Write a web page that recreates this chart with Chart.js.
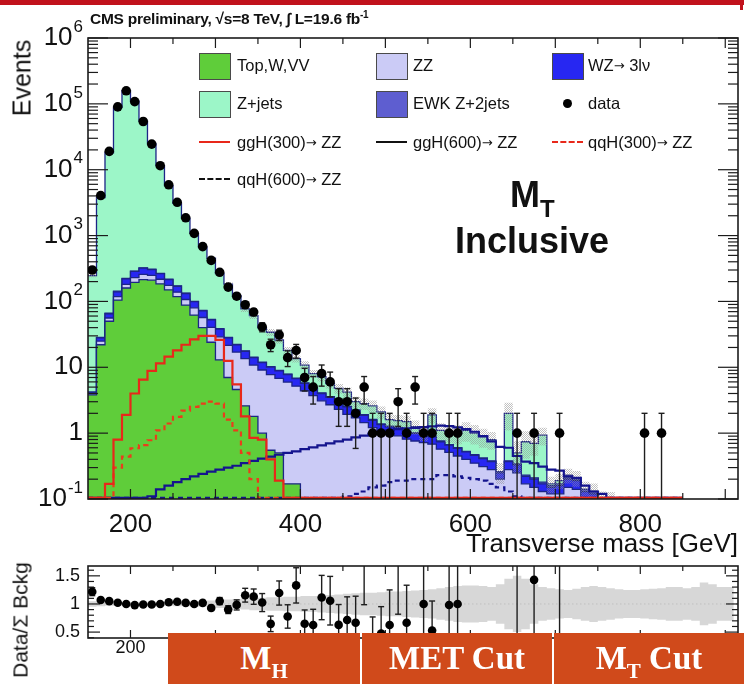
<!DOCTYPE html>
<html>
<head>
<meta charset="utf-8">
<title>Transverse mass, inclusive</title>
<script src="https://cdn.jsdelivr.net/npm/chart.js@4.4.1/dist/chart.umd.min.js"></script>
<style>
  html, body { margin: 0; padding: 0; background: #fff; }
  #page { position: relative; width: 744px; height: 684px; overflow: hidden;
          font-family: "Liberation Sans", Arial, sans-serif; color: #111; }
  #page canvas { position: absolute; left: 0; top: 0; }
  .t { position: absolute; white-space: nowrap; line-height: 1; }
  .box { position: absolute; width: 32px; height: 27px; border: 1.5px solid #4a4a4a; box-sizing: border-box; }
  .mark { position: absolute; width: 31px; height: 0; }
  .leg { font-size: 16.5px; }
  .arr { font-family: "DejaVu Sans", sans-serif; font-size: 13px; position: relative; top: -1px; }
  .cut { position: absolute; top: 633px; height: 51px; background: #d04a1b; color: #fff;
         font-family: "Liberation Serif", serif; font-weight: bold; font-size: 33px;
         text-align: center; line-height: 51px; }
  .cut span { font-size: 21px; position: relative; top: 9px; }
</style>
</head>
<body>
<div id="page">
  <canvas id="mainChart" width="744" height="684"></canvas>
  <canvas id="ratioChart" width="744" height="684"></canvas>

  <div style="position:absolute;left:0;top:0;width:744px;height:5px;background:#c1121c"></div>
  <div style="position:absolute;left:740px;top:0;width:3px;height:10px;background:#c1121c"></div>

  <div class="t" style="left:90px;top:11px;font-size:15.5px;font-weight:bold;letter-spacing:-0.25px">CMS preliminary, √s=8 TeV, ∫ L=19.6 fb<span style="font-size:10px;position:relative;top:-6px">-1</span></div>
  <div class="t" style="left:22px;top:78px;font-size:25px;transform:translate(-50%,-50%) rotate(-90deg)">Events</div>

  <!-- legend -->
  <div class="box" style="left:199px;top:53px;background:#5fcd3a"></div>
  <div class="t leg" style="left:237px;top:57px">Top,W,VV</div>
  <div class="box" style="left:376px;top:53px;background:#cbcbf6"></div>
  <div class="t leg" style="left:413px;top:57px">ZZ</div>
  <div class="box" style="left:552px;top:53px;background:#2727f2"></div>
  <div class="t leg" style="left:588px;top:57px">WZ<span class="arr">→</span> 3lν</div>

  <div class="box" style="left:199px;top:91px;background:#9cf6c8"></div>
  <div class="t leg" style="left:237px;top:95px">Z+jets</div>
  <div class="box" style="left:376px;top:91px;background:#5e5ed0"></div>
  <div class="t leg" style="left:413px;top:95px">EWK Z+2jets</div>
  <div style="position:absolute;left:563px;top:99px;width:9px;height:9px;border-radius:50%;background:#000"></div>
  <div class="t leg" style="left:588px;top:95px">data</div>

  <div class="mark" style="left:199px;top:141px;border-top:2px solid #e8281a"></div>
  <div class="t leg" style="left:237px;top:134px">ggH(300)<span class="arr">→</span> ZZ</div>
  <div class="mark" style="left:376px;top:141px;border-top:2px solid #111"></div>
  <div class="t leg" style="left:413px;top:134px">ggH(600)<span class="arr">→</span> ZZ</div>
  <div class="mark" style="left:552px;top:141px;border-top:2px dashed #e8281a"></div>
  <div class="t leg" style="left:588px;top:134px">qqH(300)<span class="arr">→</span> ZZ</div>

  <div class="mark" style="left:199px;top:178px;border-top:2px dashed #111"></div>
  <div class="t leg" style="left:237px;top:171px">qqH(600)<span class="arr">→</span> ZZ</div>

  <div class="t" style="left:510px;top:177px;font-size:36px;font-weight:bold">M<span style="font-size:24px;position:relative;top:10px">T</span></div>
  <div class="t" style="left:455px;top:223px;font-size:36px;font-weight:bold">Inclusive</div>

  <div class="t" style="right:6px;top:530px;font-size:26px">Transverse mass [GeV]</div>
  <div class="t" style="left:20px;top:620px;font-size:21px;transform:translate(-50%,-50%) rotate(-90deg)">Data/Σ Bckg</div>

  <div class="cut" style="left:168px;width:192px">M<span>H</span></div>
  <div class="cut" style="left:362px;width:190px">MET Cut</div>
  <div class="cut" style="left:554px;width:190px">M<span>T</span> Cut</div>
</div>

<script>
Chart.defaults.font.family = '"Liberation Sans", Arial, sans-serif';
Chart.defaults.color = '#111';

// binning: 10 GeV bins, first bin starts at 150 GeV
const binLow = 150;
const binWidth = 10;
const nBins = 70;           // histograms stop at 850 GeV
const xMin = 150, xMax = 915;
const xTickLabels = [200, 400, 600, 800];
const yDecades = [-1, 0, 1, 2, 3, 4, 5, 6];
const ratioTickLabels = [0.5, 1, 1.5];

// backgrounds, events per bin
const topWVV = [
  3.8, 22, 50, 105, 160, 195, 215, 210, 185, 150,
  118, 88, 62, 40, 24, 13, 7, 4.6, 2.6, 1.8,
  1.0, 0.55, 0.5, 0.17, 0.17, 0, 0, 0, 0, 0,
  0, 0, 0, 0, 0, 0, 0, 0, 0, 0,
  0, 0, 0, 0, 0, 0, 0, 0, 0, 0,
  0, 0, 0, 0, 0, 0, 0, 0, 0, 0,
  0, 0, 0, 0, 0, 0, 0, 0, 0, 0
];
const zz = [
  0.2, 3, 6, 13, 22, 35, 43, 38, 32, 25,
  20, 19, 18, 17, 16.5, 16, 14.5, 12.4, 10.9, 9.0,
  8.1, 7.2, 6.3, 5.8, 5.0, 4.4, 3.7, 3.1, 2.7, 2.3,
  1.93, 1.7, 1.44, 1.21, 1.04, 0.96, 0.91, 0.81, 0.76, 0.72,
  0.68, 0.57, 0.51, 0.45, 0.40, 0.35, 0.31, 0.28, 0.2, 0.28,
  0.25, 0.17, 0.15, 0.13, 0.12, 0.12, 0.15, 0.14, 0.10, 0.09,
  0.08, 0.08, 0.04, 0, 0, 0, 0, 0, 0, 0
];
const wz = [
  0.2, 3, 9, 22, 38, 55, 62, 57, 48, 40,
  32, 25, 19, 15, 12, 9, 6.5, 5, 4, 3.2,
  2.7, 2.3, 2.0, 1.8, 1.55, 1.3, 1.1, 0.9, 0.8, 0.68,
  0.57, 0.5, 0.43, 0.36, 0.31, 0.29, 0.27, 0.24, 0.23, 0.21,
  0.2, 0.17, 0.15, 0.14, 0.12, 0.11, 0.1, 0.09, 0.05, 0.09,
  0.08, 0.05, 0.05, 0.04, 0.03, 0.04, 0.05, 0.05, 0.03, 0.03,
  0.02, 0.02, 0.01, 0, 0, 0, 0, 0, 0, 0
];
const ewkZ2j = [
  0, 0.5, 1.5, 3, 4, 4, 3.5, 3, 2.5, 2,
  1.6, 1.3, 1, 0.8, 0.65, 0.5, 0.4, 0.35, 0.3, 0.25,
  0.2, 0.18, 0.15, 0.13, 0.11, 0.1, 0.09, 0.08, 0.07, 0.06,
  0.05, 0.05, 0.04, 0.04, 0.03, 0.03, 0.03, 0.02, 0.02, 0.02,
  0.02, 0.02, 0.01, 0.01, 0.01, 0.01, 0.01, 0.01, 0.01, 0.01,
  0.01, 0.01, 0.01, 0.01, 0.01, 0.01, 0.01, 0.01, 0.01, 0.01,
  0, 0, 0, 0, 0, 0, 0, 0, 0, 0
];
const zJets = [
  242, 3756, 18030, 88060, 157780, 109910, 54180, 24440, 11230, 5510,
  2910, 1692, 980, 594, 399, 225, 155, 99.7, 59.2, 46.8,
  28, 23.8, 17, 10.1, 6.7, 5.0, 3.1, 3.1, 2.1, 1.74,
  1.65, 0.75, 0.89, 0.99, 0.72, 0.32, 0.34, 0.43, 0.24, 0.05,
  1.0, 0.34, 0.35, 0.4, 0.57, 0.53, 0.46, 0.42, 0, 1.62,
  0.16, 0.51, 0.49, 0.75, 0.01, 0.02, 0.02, 0.01, 0, 0,
  0, 0, 0, 0, 0, 0, 0, 0, 0, 0
];

// observed events per bin
const dataCounts = [
  300, 4050, 19000, 90000, 158000, 108000, 54000, 24500, 11500, 5900,
  3200, 1860, 1080, 680, 420, 277, 165, 120, 89, 69,
  41, 22, 31, 14, 18, 7, 5, 8, 6, 3,
  3, 2, 5, 1, 1, 1, 3, 1, 5, 1,
  1, 0, 1, 1, 0, 0, 0, 0, 0, 0,
  1, 0, 1, 0, 0, 1, 0, 0, 0, 0,
  0, 0, 0, 0, 0, 1, 0, 1, 0, 0
];

// signal hypotheses, events per bin
const ggH300 = [
  0, 0, 0.17, 0.8, 1.9, 4.0, 6.5, 8.8, 11.5, 14.5,
  18, 22, 26.5, 30, 30, 26, 12.5, 5.5, 1.8, 0.85,
  0.8, 0.4, 0.19, 0, 0, 0, 0, 0, 0, 0,
  0, 0, 0, 0, 0, 0, 0, 0, 0, 0,
  0, 0, 0, 0, 0, 0, 0, 0, 0, 0,
  0, 0, 0, 0, 0, 0, 0, 0, 0, 0,
  0, 0, 0, 0, 0, 0, 0, 0, 0, 0
];
const qqH300 = [
  0, 0, 0, 0.3, 0.44, 0.59, 0.66, 0.78, 1.1, 1.4,
  1.77, 2.2, 2.5, 2.8, 3.0, 2.8, 1.6, 1.1, 0.5, 0.2,
  0, 0, 0, 0, 0, 0, 0, 0, 0, 0,
  0, 0, 0, 0, 0, 0, 0, 0, 0, 0,
  0, 0, 0, 0, 0, 0, 0, 0, 0, 0,
  0, 0, 0, 0, 0, 0, 0, 0, 0, 0,
  0, 0, 0, 0, 0, 0, 0, 0, 0, 0
];
const ggH600 = [
  0, 0, 0, 0, 0, 0, 0, 0.11, 0.14, 0.16,
  0.18, 0.2, 0.22, 0.24, 0.26, 0.28, 0.3, 0.32, 0.35, 0.38,
  0.41, 0.44, 0.47, 0.5, 0.53, 0.57, 0.61, 0.65, 0.7, 0.75,
  0.8, 0.86, 0.92, 0.98, 1.04, 1.1, 1.15, 1.18, 1.2, 1.23,
  1.27, 1.3, 1.28, 1.22, 1.15, 1.05, 0.9, 0.75, 0.62, 0.6,
  0.45, 0.37, 0.35, 0.31, 0.28, 0.27, 0.22, 0.21, 0.16, 0.13,
  0.12, 0.1, 0.08, 0, 0, 0, 0, 0, 0, 0
];
const qqH600 = [
  0, 0, 0, 0, 0, 0, 0, 0, 0, 0,
  0, 0, 0, 0, 0, 0, 0, 0, 0, 0,
  0, 0, 0, 0, 0, 0, 0, 0, 0, 0.1,
  0.11, 0.12, 0.13, 0.15, 0.16, 0.18, 0.19, 0.19, 0.2, 0.2,
  0.2, 0.23, 0.23, 0.22, 0.21, 0.2, 0.19, 0.17, 0.15, 0.13,
  0.11, 0.1, 0, 0, 0, 0, 0, 0, 0, 0,
  0, 0, 0, 0, 0, 0, 0, 0, 0, 0
];

// relative background uncertainty per bin (150-910 GeV)
const bkgRelUnc = [
  0.05, 0.04, 0.03, 0.03, 0.03, 0.03, 0.03, 0.03, 0.03, 0.03,
  0.04, 0.04, 0.05, 0.05, 0.06, 0.07, 0.08, 0.09, 0.10, 0.11,
  0.11, 0.12, 0.12, 0.13, 0.13, 0.14, 0.14, 0.15, 0.16, 0.17,
  0.18, 0.19, 0.20, 0.20, 0.21, 0.22, 0.22, 0.23, 0.24, 0.25,
  0.26, 0.28, 0.30, 0.32, 0.33, 0.33, 0.32, 0.30, 0.35, 0.45,
  0.50, 0.45, 0.35, 0.30, 0.28, 0.26, 0.25, 0.27, 0.30, 0.32,
  0.30, 0.28, 0.26, 0.25, 0.25, 0.26, 0.27, 0.28, 0.30, 0.30,
  0.28, 0.30, 0.38, 0.35, 0.30, 0.30
];

const edge = i => binLow + i * binWidth;
const centre = i => edge(i) + binWidth / 2;

// step-histogram points: value of bin i holds from its left edge to the next one
function histPoints(values, floor) {
  const pts = values.map((v, i) => ({ x: edge(i), y: Math.max(v, floor) }));
  pts.push({ x: edge(values.length), y: Math.max(values[values.length - 1], floor) });
  return pts;
}

// cumulative stack, bottom to top
const layers = [topWVV, zz, wz, ewkZ2j, zJets];
const cum = [];
let running = new Array(nBins).fill(0);
layers.forEach(l => {
  running = running.map((s, i) => s + l[i]);
  cum.push(running);
});
const total = cum[cum.length - 1];

const HIDDEN = 1e-3;      // below the axis, gets clipped away
const ALONG_AXIS = 0.104; // signal curves run along the bottom edge

const dataPts = [], dataErr = [], ratioPts = [], ratioErr = [];
dataCounts.forEach((n, i) => {
  if (n <= 0) return;
  const e = Math.sqrt(n);
  dataPts.push({ x: centre(i), y: n });
  dataErr.push({ x: centre(i), hi: n + e, lo: n - e });
  if (total[i] > 0) {
    const r = n / total[i];
    ratioPts.push({ x: centre(i), y: r });
    ratioErr.push({ x: centre(i), hi: r + e / total[i], lo: r - e / total[i] });
  }
});

const uncMain = bkgRelUnc.slice(0, nBins);
const bandUp = total.map((t, i) => t * (1 + uncMain[i]));
const bandLo = total.map((t, i) => t * (1 - uncMain[i]));

function hatchPattern(ctx, color) {
  const c = document.createElement('canvas');
  c.width = 4; c.height = 4;
  const g = c.getContext('2d');
  g.fillStyle = color;
  [[0, 0], [2, 0], [1, 1], [3, 1], [0, 2], [2, 2], [1, 3], [3, 3]].forEach(([a, b]) => g.fillRect(a, b, 1, 1));
  return ctx.createPattern(c, 'repeat');
}

function seg(ctx, x1, y1, x2, y2) {
  ctx.beginPath(); ctx.moveTo(x1, y1); ctx.lineTo(x2, y2); ctx.stroke();
}

function drawErrorBars(chart, bars, logScale) {
  const { ctx, chartArea: a, scales: { x, y } } = chart;
  ctx.save();
  ctx.beginPath();
  ctx.rect(a.left, a.top, a.right - a.left, a.bottom - a.top);
  ctx.clip();
  ctx.strokeStyle = '#1e1e1e';
  ctx.lineWidth = 1.4;
  bars.forEach(b => {
    const px = x.getPixelForValue(b.x);
    const yHi = y.getPixelForValue(b.hi);
    const noLow = logScale && b.lo <= 0;
    const yLo = noLow ? a.bottom + 2 : y.getPixelForValue(b.lo);
    seg(ctx, px, yHi, px, yLo);
    seg(ctx, px - 3, yHi, px + 3, yHi);
    if (!noLow) seg(ctx, px - 3, yLo, px + 3, yLo);
  });
  ctx.restore();
}

function drawXTicks(chart, majorLen, minorLen) {
  const { ctx, chartArea: a, scales: { x } } = chart;
  for (let v = 200; v <= 900; v += 50) {
    const px = x.getPixelForValue(v);
    const len = v % 100 === 0 ? majorLen : minorLen;
    seg(ctx, px, a.bottom, px, a.bottom - len);
    seg(ctx, px, a.top, px, a.top + len);
  }
}

// frame, inward ticks, y labels and error bars, drawn just under the data markers
const mainDecor = {
  id: 'mainDecor',
  afterDatasetDraw(chart, args) {
    if (args.index !== 1) return;
    const { ctx, chartArea: a, scales: { y } } = chart;
    drawErrorBars(chart, dataErr, true);
    ctx.save();
    ctx.strokeStyle = '#1b1b1b';
    ctx.lineWidth = 1.2;
    drawXTicks(chart, 10, 6);
    for (let d = -1; d <= 6; d++) {
      for (let m = 1; m <= 9; m++) {
        const v = m * Math.pow(10, d);
        if (v < 0.1 || v > 1e6) continue;
        const py = y.getPixelForValue(v);
        const len = m === 1 ? 20 : 10;
        seg(ctx, a.left, py, a.left + len, py);
        seg(ctx, a.right, py, a.right - len, py);
      }
    }
    ctx.lineWidth = 1.6;
    ctx.strokeRect(a.left, a.top, a.right - a.left, a.bottom - a.top);

    ctx.fillStyle = '#111';
    ctx.textAlign = 'right';
    ctx.textBaseline = 'middle';
    const xr = 83;
    yDecades.forEach(d => {
      const py = y.getPixelForValue(Math.pow(10, d));
      ctx.font = '26px "Liberation Sans"';
      if (d === 0 || d === 1) {
        ctx.fillText(d === 0 ? '1' : '10', xr, py);
        return;
      }
      ctx.font = '17px "Liberation Sans"';
      const exp = String(d);
      const w = ctx.measureText(exp).width;
      ctx.fillText(exp, xr, py - 11);
      ctx.font = '26px "Liberation Sans"';
      ctx.fillText('10', xr - w - 1, py);
    });
    ctx.restore();
  }
};

const ratioDecor = {
  id: 'ratioDecor',
  beforeDatasetsDraw(chart) {
    const { ctx, chartArea: a, scales: { y } } = chart;
    ctx.save();
    ctx.strokeStyle = '#8a8a8a';
    ctx.lineWidth = 1;
    ctx.setLineDash([1.5, 2.5]);
    const py = y.getPixelForValue(1);
    seg(ctx, a.left, py, a.right, py);
    ctx.restore();
  },
  afterDatasetDraw(chart, args) {
    if (args.index !== 1) return;
    const { ctx, chartArea: a, scales: { y } } = chart;
    drawErrorBars(chart, ratioErr, false);
    ctx.save();
    ctx.strokeStyle = '#1b1b1b';
    ctx.lineWidth = 1.2;
    drawXTicks(chart, 8, 5);
    for (let k = 4; k <= 16; k++) {
      const v = k / 10;
      const py = y.getPixelForValue(v);
      const len = k % 5 === 0 ? 12 : 6;
      seg(ctx, a.left, py, a.left + len, py);
      seg(ctx, a.right, py, a.right - len, py);
    }
    ctx.lineWidth = 1.6;
    ctx.strokeRect(a.left, a.top, a.right - a.left, a.bottom - a.top);
    ctx.fillStyle = '#111';
    ctx.textAlign = 'right';
    ctx.textBaseline = 'middle';
    ctx.font = '18px "Liberation Sans"';
    ratioTickLabels.forEach(v => ctx.fillText(String(v), 80, y.getPixelForValue(v)));
    ctx.restore();
  }
};

const mainCtx = document.getElementById('mainChart').getContext('2d');
const OUTLINE = '#1c2586';

function stackLayer(values, color) {
  return {
    data: histPoints(values, HIDDEN), stepped: true, fill: 'start',
    backgroundColor: color, borderColor: OUTLINE, borderWidth: 1.3, pointRadius: 0
  };
}
function signalLine(values, color, dash) {
  return {
    data: histPoints(values, ALONG_AXIS), stepped: true, fill: false,
    borderColor: color, borderWidth: 2.2, borderDash: dash, pointRadius: 0
  };
}

new Chart(mainCtx, {
  type: 'line',
  data: {
    datasets: [
      { data: dataPts, showLine: false, pointRadius: 4.8, pointBackgroundColor: '#000', pointBorderWidth: 0 },
      signalLine(ggH300, '#e8281a', []),
      signalLine(qqH300, '#ea3d1c', [5, 4]),
      signalLine(ggH600, '#14148e', []),
      signalLine(qqH600, '#14148e', [5, 4]),
      { data: histPoints(bandUp, HIDDEN), stepped: true, fill: '+1', borderWidth: 0, pointRadius: 0,
        backgroundColor: hatchPattern(mainCtx, 'rgba(150,150,150,0.6)') },
      { data: histPoints(bandLo, HIDDEN), stepped: true, fill: false, borderWidth: 0, pointRadius: 0 },
      stackLayer(cum[0], '#5fcd3a'),
      stackLayer(cum[1], '#cbcbf6'),
      stackLayer(cum[2], '#2727f2'),
      stackLayer(cum[3], '#5e5ed0'),
      stackLayer(cum[4], '#9cf6c8')
    ]
  },
  options: {
    responsive: false,
    animation: false,
    events: [],
    layout: { padding: { top: 38, right: 6, left: 0, bottom: 0 } },
    plugins: { legend: { display: false }, tooltip: { enabled: false } },
    scales: {
      x: {
        type: 'linear', min: xMin, max: xMax,
        grid: { display: false }, border: { display: false },
        afterBuildTicks: s => { s.ticks = xTickLabels.map(v => ({ value: v })); },
        ticks: { font: { size: 26 }, padding: 2, maxRotation: 0, autoSkip: false },
        afterFit: s => { s.height = 185; }
      },
      y: {
        type: 'logarithmic', min: 0.1, max: 1e6,
        grid: { display: false }, border: { display: false },
        ticks: { display: false },
        afterFit: s => { s.width = 88; }
      }
    }
  },
  plugins: [mainDecor]
});

const ratioCtx = document.getElementById('ratioChart').getContext('2d');
new Chart(ratioCtx, {
  type: 'line',
  data: {
    datasets: [
      { data: ratioPts, showLine: false, pointRadius: 4.3, pointBackgroundColor: '#000', pointBorderWidth: 0 },
      { data: histPoints(bkgRelUnc.map(u => 1 + u), -10), stepped: true, fill: '+1', borderWidth: 0, pointRadius: 0,
        backgroundColor: 'rgba(205,205,205,0.8)' },
      { data: histPoints(bkgRelUnc.map(u => 1 - u), -10), stepped: true, fill: false, borderWidth: 0, pointRadius: 0 }
    ]
  },
  options: {
    responsive: false,
    animation: false,
    events: [],
    layout: { padding: { top: 566, right: 6, left: 0, bottom: 0 } },
    plugins: { legend: { display: false }, tooltip: { enabled: false } },
    scales: {
      x: {
        type: 'linear', min: xMin, max: xMax,
        grid: { display: false }, border: { display: false },
        afterBuildTicks: s => { s.ticks = xTickLabels.map(v => ({ value: v })); },
        ticks: { font: { size: 18 }, padding: -9, maxRotation: 0, autoSkip: false },
        afterFit: s => { s.height = 46; }
      },
      y: {
        type: 'linear', min: 0.395, max: 1.675,
        grid: { display: false }, border: { display: false },
        ticks: { display: false },
        afterFit: s => { s.width = 88; }
      }
    }
  },
  plugins: [ratioDecor]
});
</script>
</body>
</html>
